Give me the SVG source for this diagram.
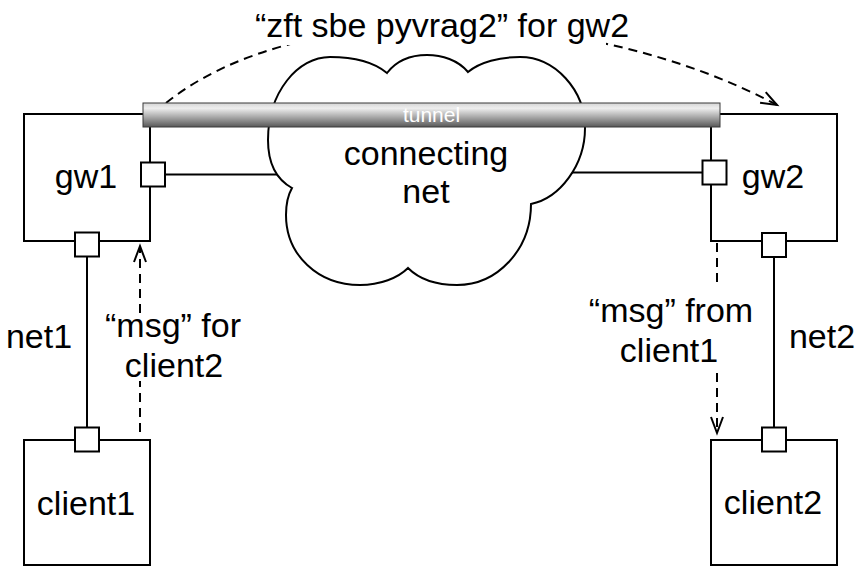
<svg xmlns="http://www.w3.org/2000/svg" width="858" height="566" viewBox="0 0 858 566">
  <style>
    .box { fill: #ffffff; stroke: #000000; stroke-width: 2; }
    .port { fill: #ffffff; stroke: #000000; stroke-width: 2; }
    .link { fill: none; stroke: #000000; stroke-width: 2; }
    .flow { fill: none; stroke: #000000; stroke-width: 2; stroke-dasharray: 9 6; }
    .lbl { font-family: "Liberation Sans", Arial, Helvetica, sans-serif; font-size: 34px; fill: #000000; text-anchor: middle; }
    .tun { font-family: "Liberation Sans", Arial, Helvetica, sans-serif; font-size: 21px; fill: #ffffff; text-anchor: middle; }
  </style>
  <defs>
    <linearGradient id="tubeShade" x1="0" y1="0" x2="0" y2="1">
      <stop offset="0" stop-color="#d4d4d4"/>
      <stop offset="0.22" stop-color="#eeeeee"/>
      <stop offset="0.6" stop-color="#a6a6a6"/>
      <stop offset="1" stop-color="#585858"/>
    </linearGradient>
    <marker id="openArrow" markerUnits="userSpaceOnUse" markerWidth="22" markerHeight="16" refX="17" refY="7" orient="auto">
      <path d="M1,1 L17,7 L1,13" fill="none" stroke="#000000" stroke-width="2"/>
    </marker>
  </defs>

  <rect width="858" height="566" fill="#ffffff"/>

  <!-- connectors -->
  <g id="connectors">
    <!-- gateway ports to the connecting net -->
    <line class="link" x1="165" y1="174.5" x2="281" y2="174.5"/>
    <line class="link" x1="571" y1="172.5" x2="702.5" y2="172.5"/>
    <!-- net1 and net2 -->
    <line class="link" x1="87" y1="256.5" x2="87" y2="427.5"/>
    <line class="link" x1="774" y1="257" x2="774" y2="427.5"/>
    <!-- message flows -->
    <path class="flow" d="M140,432 V381 M140,313 V246" marker-end="url(#openArrow)"/>
    <path class="flow" d="M717,243 V284 M717,373 V433" marker-end="url(#openArrow)"/>
    <path class="flow" d="M166,103 C300,-5 590,5 777,105" marker-end="url(#openArrow)"/>
  </g>

  <!-- connecting net -->
  <g id="connecting-net">
    <path class="box" d="M292,188 C274,178 268,160 268,140 C268,92 298,57 330,57 C355,57 375,63 387,73 C397,60 412,55 427,55 C442,55 458,60 468,72 C480,62 500,57 520,57 C555,57 585,90 585,128 C585,165 560,198 531,204 C531,250 497,285 457,285 C435,285 418,278 408,268 C398,278 380,285 360,285 C318,285 286,255 286,215 C286,203 288,195 292,188 Z"/>
    <text class="lbl" x="426" y="165">connecting</text>
    <text class="lbl" x="426" y="203">net</text>
  </g>

  <!-- gateway 1 -->
  <g id="gw1">
    <rect class="box" x="24" y="114" width="126" height="127"/>
    <text class="lbl" x="86" y="188">gw1</text>
    <rect class="port" x="141" y="162.5" width="24" height="24"/>
    <rect class="port" x="75" y="232.5" width="24" height="24"/>
  </g>

  <!-- gateway 2 -->
  <g id="gw2">
    <rect class="box" x="711" y="114" width="126" height="127"/>
    <text class="lbl" x="773" y="188">gw2</text>
    <rect class="port" x="702.5" y="160.5" width="24" height="24"/>
    <rect class="port" x="762" y="233" width="24" height="24"/>
  </g>

  <!-- client 1 -->
  <g id="client1">
    <rect class="box" x="24" y="440" width="126" height="125"/>
    <text class="lbl" x="86" y="515">client1</text>
    <rect class="port" x="75" y="427.5" width="24" height="24"/>
  </g>

  <!-- client 2 -->
  <g id="client2">
    <rect class="box" x="711" y="440" width="126" height="125"/>
    <text class="lbl" x="773" y="514">client2</text>
    <rect class="port" x="762" y="427.5" width="24" height="24"/>
  </g>

  <!-- tunnel between the gateways -->
  <g id="tunnel">
    <rect x="143" y="103" width="577" height="24" fill="url(#tubeShade)" stroke="#3a3a3a" stroke-width="1"/>
    <text class="tun" x="431.5" y="122">tunnel</text>
  </g>

  <!-- labels -->
  <g id="labels">
    <rect x="284" y="4" width="322" height="41" fill="#ffffff"/>
    <text class="lbl" x="442" y="37">“zft sbe pyvrag2” for gw2</text>
    <text class="lbl" x="39" y="348">net1</text>
    <text class="lbl" x="822" y="348">net2</text>
    <text class="lbl" x="173" y="337">“msg” for</text>
    <text class="lbl" x="174" y="377">client2</text>
    <text class="lbl" x="671" y="322">“msg” from</text>
    <text class="lbl" x="669" y="362">client1</text>
  </g>
</svg>
